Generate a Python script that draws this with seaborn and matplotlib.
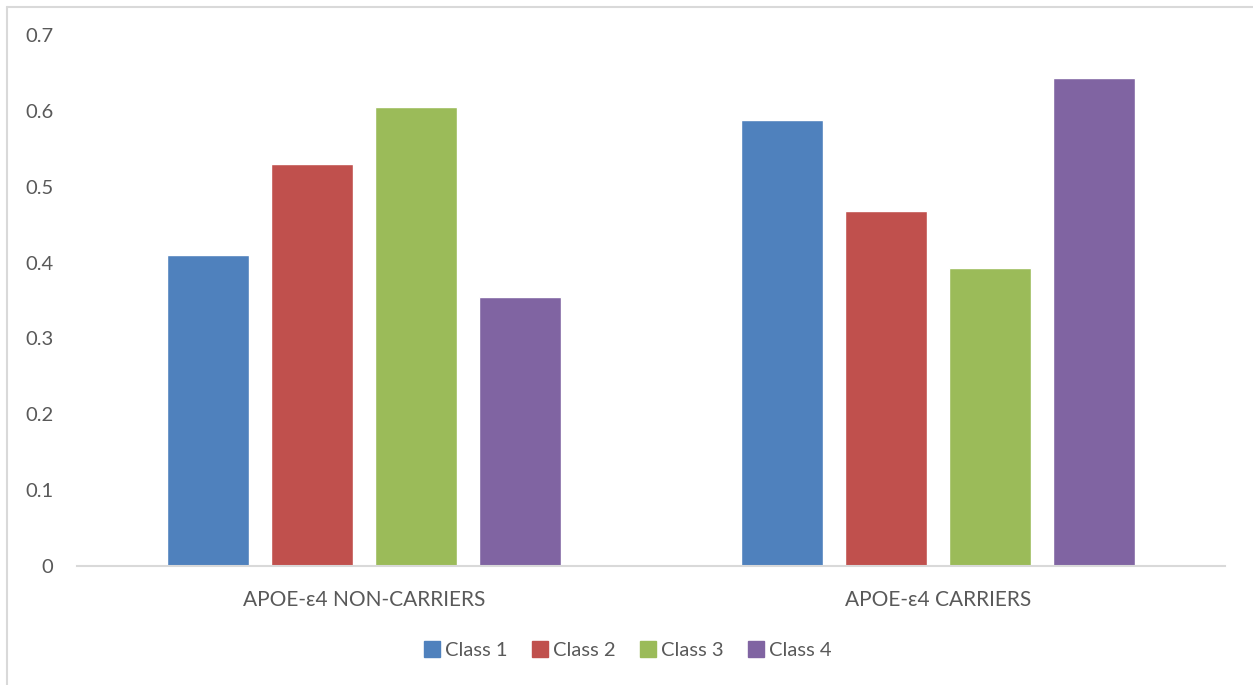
import matplotlib
matplotlib.use("Agg")
import matplotlib.pyplot as plt
import seaborn as sns
import pandas as pd
from matplotlib.lines import Line2D

groups = ["APOE-ε4 NON-CARRIERS", "APOE-ε4 CARRIERS"]
classes = ["Class 1", "Class 2", "Class 3", "Class 4"]
non_carriers = [0.41, 0.53, 0.605, 0.355]
carriers = [0.588, 0.468, 0.393, 0.643]
yticks = [0, 0.1, 0.2, 0.3, 0.4, 0.5, 0.6, 0.7]
ytick_labels = ["0", "0.1", "0.2", "0.3", "0.4", "0.5", "0.6", "0.7"]

palette = ["#4F81BD", "#C0504D", "#9BBB59", "#8064A2"]
text_color = "#595959"

sns.set_theme(style="white")
plt.rcParams["font.family"] = ["Lato", "DejaVu Sans"]

df = pd.DataFrame({
    "group": [groups[0]] * 4 + [groups[1]] * 4,
    "cls": classes * 2,
    "value": non_carriers + carriers,
})

fig = plt.figure(figsize=(12.53, 6.85), dpi=100)
ax = fig.add_axes([77 / 1253, 1 - 566 / 685, (1225 - 77) / 1253, (566 - 35) / 685])

sns.barplot(data=df, x="group", y="value", hue="cls", order=groups,
            hue_order=classes, palette=palette, width=0.725, gap=0.21,
            saturation=1, errorbar=None, ax=ax, legend=False)

ax.set_ylim(0, 0.7)
ax.set_xlim(-0.5, 1.5)
ax.set_yticks(yticks)
ax.set_yticklabels(ytick_labels)
ax.set_xlabel("")
ax.set_ylabel("")
for s in ["top", "right", "left"]:
    ax.spines[s].set_visible(False)
ax.spines["bottom"].set_color("#D9D9D9")
ax.spines["bottom"].set_linewidth(1.5)
ax.tick_params(axis="y", length=0, pad=17, labelsize=14.5, labelcolor=text_color)
ax.tick_params(axis="x", length=0, pad=17, labelsize=15, labelcolor=text_color)

handles = [Line2D([0], [0], marker="s", linestyle="", markersize=11,
                  markerfacecolor=c, markeredgecolor=c) for c in palette]
fig.legend(handles, classes, loc="center", bbox_to_anchor=(0.5, 1 - 650 / 685),
           ncol=4, frameon=False, fontsize=14.5, labelcolor=text_color,
           handletextpad=0.15, columnspacing=1.1, handlelength=1.0)

# outer chart frame (left and top edges)
fig.add_artist(Line2D([7 / 1253, 7 / 1253], [0, 1 - 7 / 685],
                      transform=fig.transFigure, color="#D9D9D9", lw=1.5))
fig.add_artist(Line2D([7 / 1253, 1], [1 - 7 / 685, 1 - 7 / 685],
                      transform=fig.transFigure, color="#D9D9D9", lw=1.5))

fig.savefig("out.png", dpi=100, facecolor="white")
